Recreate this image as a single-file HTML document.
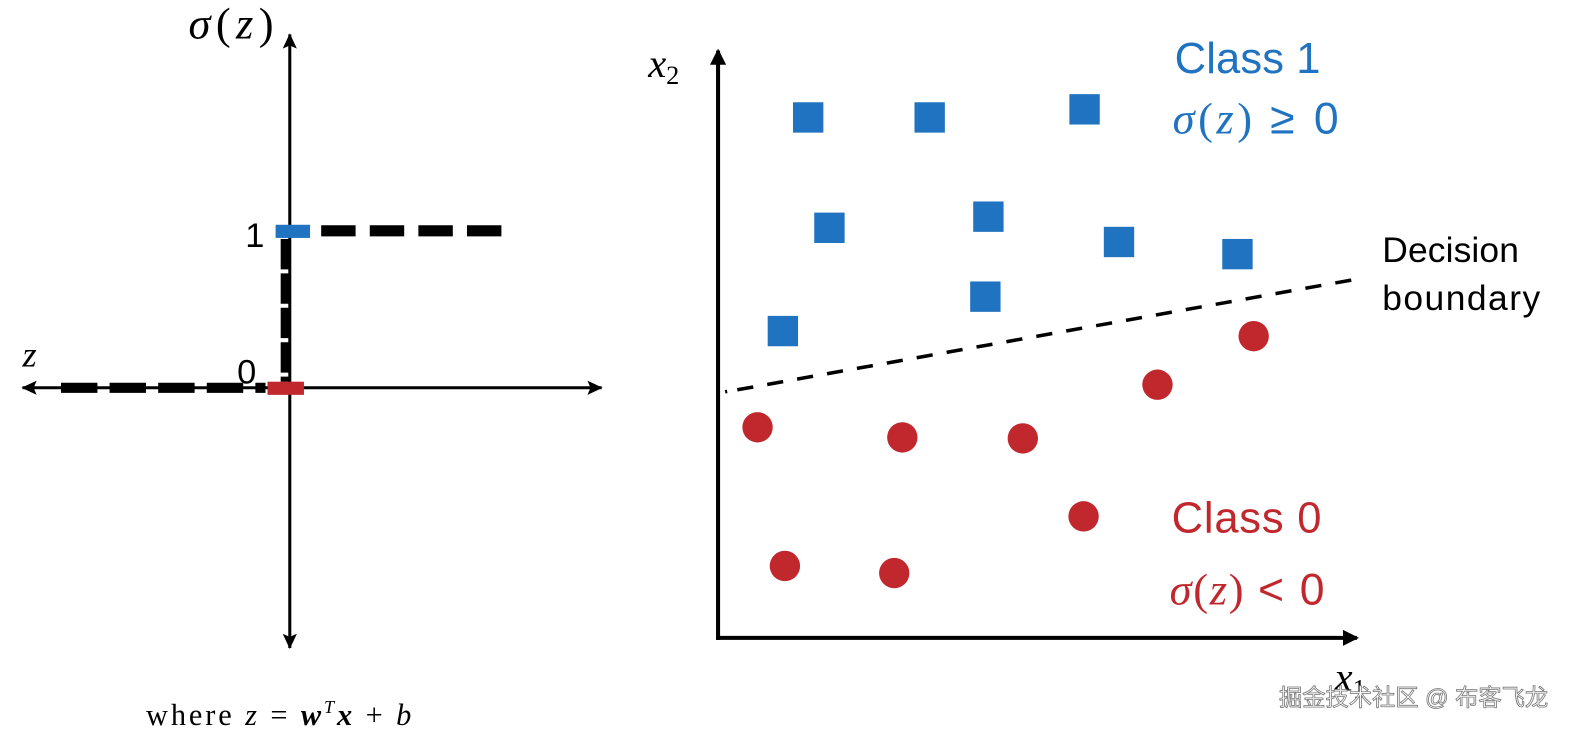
<!DOCTYPE html>
<html><head><meta charset="utf-8"><style>
html,body{margin:0;padding:0;background:#fff;width:1588px;height:731px;overflow:hidden}
svg{display:block}
</style></head><body>
<svg width="1588" height="731" viewBox="0 0 1568 722" xmlns="http://www.w3.org/2000/svg">
<defs>
<marker id="ah" markerWidth="16" markerHeight="16" refX="14" refY="8" orient="auto" markerUnits="userSpaceOnUse">
<path d="M0,1 L15,8 L0,15 L3,8 Z" fill="#000"/></marker>
<marker id="ah2" markerWidth="16" markerHeight="16" refX="14" refY="8" orient="auto" markerUnits="userSpaceOnUse">
<path d="M0,0 L16,8 L0,16 Z" fill="#000"/></marker>
</defs>
<!-- left plot -->
<line x1="286" y1="390" x2="286" y2="34" stroke="#000" stroke-width="3" marker-end="url(#ah)"/>
<line x1="286" y1="380" x2="286" y2="640" stroke="#000" stroke-width="3" marker-end="url(#ah)"/>
<line x1="280" y1="383" x2="594" y2="383" stroke="#000" stroke-width="3" marker-end="url(#ah)"/>
<line x1="290" y1="383" x2="22" y2="383" stroke="#000" stroke-width="3" marker-end="url(#ah)"/>
<line x1="60" y1="383" x2="262" y2="383" stroke="#000" stroke-width="10" stroke-dasharray="36,12"/>
<line x1="281" y1="236" x2="281" y2="377" stroke="#000" stroke-width="8" stroke-dasharray="30,4"/>
<line x1="317" y1="228" x2="495" y2="228" stroke="#000" stroke-width="11" stroke-dasharray="34,14"/>
<rect x="272" y="222" width="34" height="13" fill="#1f73c0"/>
<rect x="264" y="377" width="36" height="13" fill="#c0282d"/>
<text x="186" y="38" font-family="Liberation Serif, serif" font-size="44" textLength="84" lengthAdjust="spacing"><tspan font-style="italic">σ</tspan>(<tspan font-style="italic">z</tspan>)</text>
<text x="242" y="244" font-family="Liberation Sans, sans-serif" font-size="34">1</text>
<text x="234" y="379" font-family="Liberation Sans, sans-serif" font-size="34">0</text>
<text x="22" y="362" font-family="Liberation Serif, serif" font-style="italic" font-size="36">z</text>
<text x="144" y="716" font-family="Liberation Serif, serif" font-size="30" textLength="262" lengthAdjust="spacing">where <tspan font-style="italic">z</tspan> = <tspan font-weight="bold" font-style="italic">w</tspan><tspan font-style="italic" font-size="18" dy="-12">T</tspan><tspan font-weight="bold" font-style="italic" dy="12">x</tspan> + <tspan font-style="italic">b</tspan></text>
<!-- right plot -->
<line x1="709" y1="632" x2="709" y2="50" stroke="#000" stroke-width="4" marker-end="url(#ah2)"/>
<line x1="707" y1="630" x2="1340" y2="630" stroke="#000" stroke-width="4" marker-end="url(#ah2)"/>
<line x1="716" y1="387" x2="718" y2="386.6" stroke="#000" stroke-width="3.5"/>
<line x1="728" y1="385" x2="1338" y2="276" stroke="#000" stroke-width="3.5" stroke-dasharray="16,14"/>
<g fill="#1f73c0">
<rect x="783" y="101" width="30" height="30"/>
<rect x="903" y="101" width="30" height="30"/>
<rect x="1056" y="93" width="30" height="30"/>
<rect x="804" y="210" width="30" height="30"/>
<rect x="961" y="199" width="30" height="30"/>
<rect x="1090" y="224" width="30" height="30"/>
<rect x="1207" y="236" width="30" height="30"/>
<rect x="958" y="278" width="30" height="30"/>
<rect x="758" y="312" width="30" height="30"/>
</g>
<g fill="#c0282d">
<circle cx="748" cy="422" r="15"/>
<circle cx="891" cy="432" r="15"/>
<circle cx="1010" cy="433" r="15"/>
<circle cx="1143" cy="380" r="15"/>
<circle cx="1238" cy="332" r="15"/>
<circle cx="1070" cy="510" r="15"/>
<circle cx="775" cy="559" r="15"/>
<circle cx="883" cy="566" r="15"/>
</g>
<text x="1160" y="72" font-family="Liberation Sans, sans-serif" font-size="43" fill="#1f73c0" textLength="144" lengthAdjust="spacing">Class 1</text>
<text x="1158" y="132" font-family="Liberation Serif, serif" font-size="44" fill="#1f73c0" textLength="164" lengthAdjust="spacing"><tspan font-style="italic">σ</tspan>(<tspan font-style="italic">z</tspan>) <tspan font-family="Liberation Sans, sans-serif">≥ 0</tspan></text>
<text x="1365" y="259" font-family="Liberation Sans, sans-serif" font-size="35" fill="#000" textLength="135" lengthAdjust="spacing">Decision</text>
<text x="1365" y="306" font-family="Liberation Sans, sans-serif" font-size="35" fill="#000" textLength="156" lengthAdjust="spacing">boundary</text>
<text x="1157" y="526" font-family="Liberation Sans, sans-serif" font-size="43" fill="#c0282d" textLength="148" lengthAdjust="spacing">Class 0</text>
<text x="1155" y="597" font-family="Liberation Serif, serif" font-size="44" fill="#c0282d" textLength="153" lengthAdjust="spacing"><tspan font-style="italic">σ</tspan>(<tspan font-style="italic">z</tspan>) <tspan font-family="Liberation Sans, sans-serif">&lt; 0</tspan></text>
<text x="640" y="76" font-family="Liberation Serif, serif" font-style="italic" font-size="40">x<tspan font-style="normal" font-size="26" dy="7">2</tspan></text>
<text x="1318" y="682" font-family="Liberation Serif, serif" font-style="italic" font-size="40">x<tspan font-style="normal" font-size="26" dy="7">1</tspan></text>
<text x="1263" y="697" font-family="Liberation Sans, 'Noto Sans CJK SC', sans-serif" font-size="23" fill="#fff" stroke="#777" stroke-width="0.8">掘金技术社区 @ 布客飞龙</text>
</svg>
</body></html>
